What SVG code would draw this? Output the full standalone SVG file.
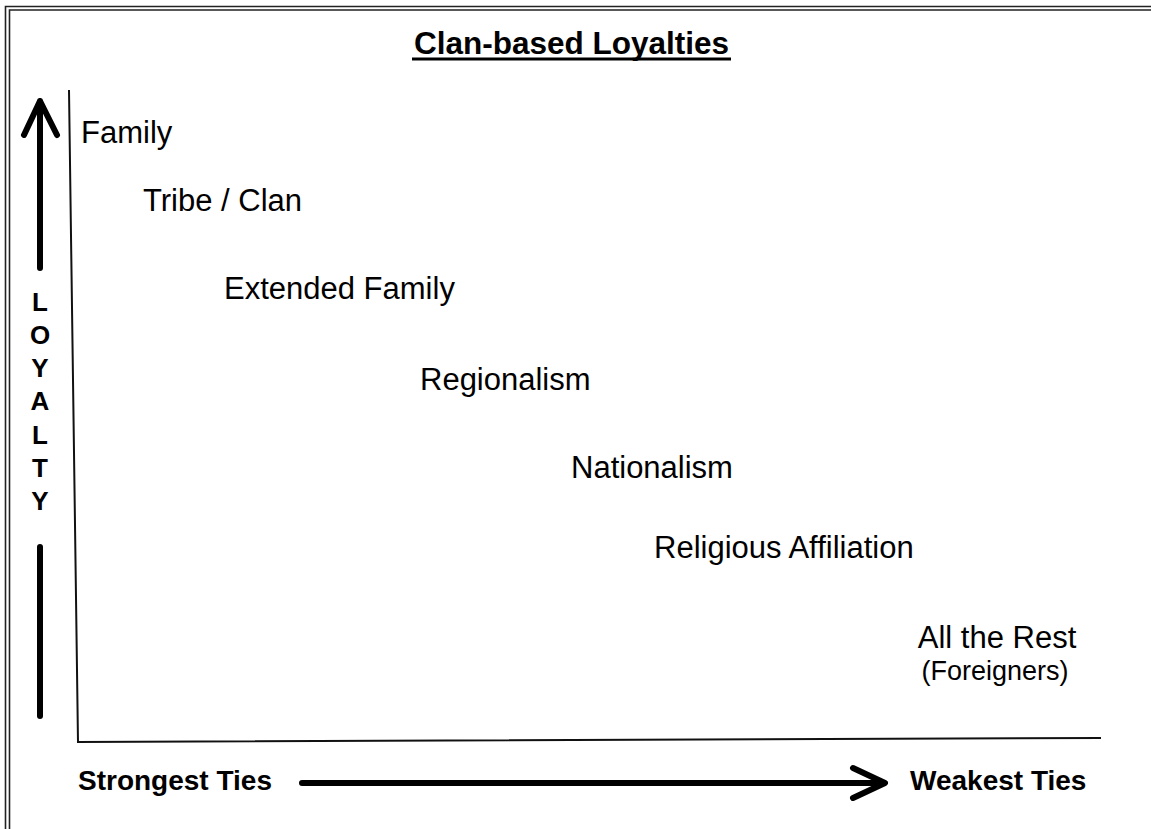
<svg xmlns="http://www.w3.org/2000/svg" width="1151" height="829" viewBox="0 0 1151 829">
<style>
.lbl{font-family:"Liberation Sans",Arial,sans-serif;font-size:31px;fill:#000}
.small{font-size:27px}
.bold{font-family:"Liberation Sans",Arial,sans-serif;font-weight:bold;fill:#000}
.frame{fill:none;stroke:#222;stroke-width:1.6}
.axis{fill:none;stroke:#111;stroke-width:2}
.arrow{fill:none;stroke:#000;stroke-width:6;stroke-linecap:round;stroke-linejoin:round}
</style>
<rect width="1151" height="829" fill="#fff"/>
<g id="frame">
<path class="frame" d="M5.5,829 V6.5 H1151"/>
<path class="frame" d="M9.5,829 V10 H1151"/>
</g>
<g id="title">
<text class="bold" x="571.5" y="54" font-size="31.5" text-anchor="middle">Clan-based Loyalties</text>
<line x1="412" y1="59" x2="731" y2="59" stroke="#000" stroke-width="3"/>
</g>
<g id="connectors">
<path class="axis" d="M69,90 L78,742 L1101,738"/>
<path class="arrow" d="M40,268 V101 M24,135 L40,101 L57,135"/>
<path class="arrow" d="M40,547 V716"/>
<path class="arrow" d="M302,783 H884 M853,768 L885,783 L853,798"/>
</g>
<g id="loyalty-label" class="bold" font-size="26" text-anchor="middle">
<text x="40" y="311">L</text>
<text x="40" y="344">O</text>
<text x="40" y="377">Y</text>
<text x="40" y="410">A</text>
<text x="40" y="444">L</text>
<text x="40" y="477">T</text>
<text x="40" y="510">Y</text>
</g>
<g id="node-family"><text class="lbl" x="81" y="143">Family</text></g>
<g id="node-tribe"><text class="lbl" x="143" y="211">Tribe / Clan</text></g>
<g id="node-extended"><text class="lbl" x="224" y="299">Extended Family</text></g>
<g id="node-regionalism"><text class="lbl" x="420" y="390">Regionalism</text></g>
<g id="node-nationalism"><text class="lbl" x="571" y="478">Nationalism</text></g>
<g id="node-religious"><text class="lbl" x="654" y="558">Religious Affiliation</text></g>
<g id="node-rest">
<text class="lbl" x="997" y="648" text-anchor="middle">All the Rest</text>
<text class="lbl small" x="995" y="680" text-anchor="middle">(Foreigners)</text>
</g>
<g id="x-labels">
<text class="bold" x="78" y="790" font-size="28">Strongest Ties</text>
<text class="bold" x="910" y="790" font-size="28">Weakest Ties</text>
</g>
</svg>
